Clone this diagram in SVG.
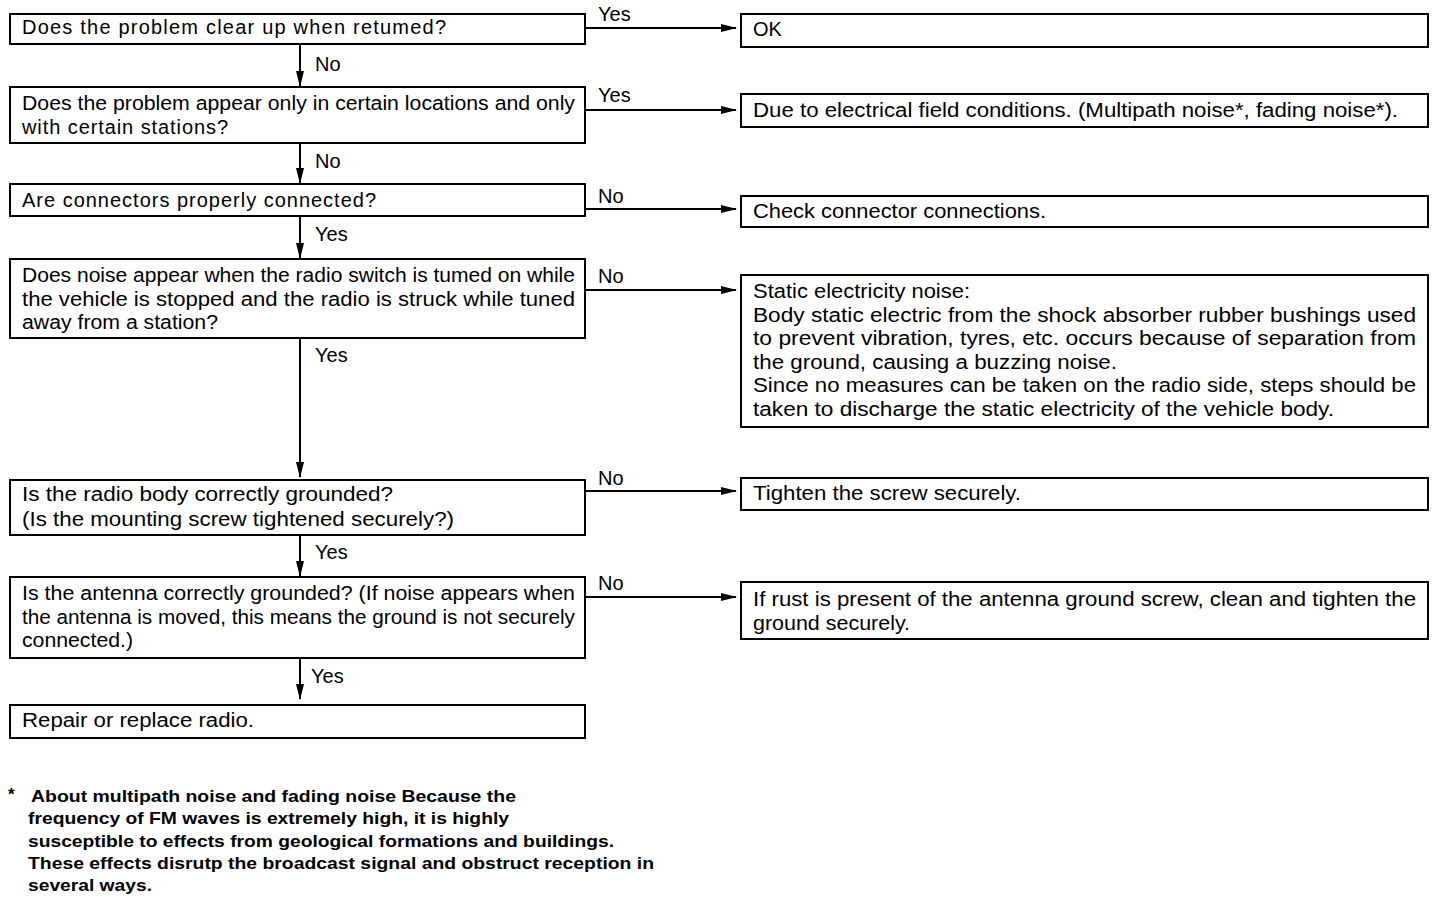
<svg xmlns="http://www.w3.org/2000/svg" width="1440" height="902" viewBox="0 0 1440 902">
<style>
.box{fill:#fff;stroke:#000;stroke-width:2}
.t{font-family:"Liberation Sans",Arial,sans-serif;font-size:20px;fill:#000}
.f{font-family:"Liberation Sans",Arial,sans-serif;font-size:17px;font-weight:bold;fill:#000}
.c{stroke:#000;stroke-width:2;fill:none;marker-end:url(#ah)}
</style>
<defs>
<marker id="ah" markerWidth="16" markerHeight="8" refX="15" refY="4" orient="auto" markerUnits="userSpaceOnUse">
<path d="M0,0 L16,4 L0,8 Z" fill="#000"/>
</marker>
</defs>
<rect width="1440" height="902" fill="#fff"/>

<g id="connectors">
<line class="c" x1="585" y1="28" x2="736" y2="28"/>
<line class="c" x1="585" y1="110" x2="736" y2="110"/>
<line class="c" x1="585" y1="209" x2="736" y2="209"/>
<line class="c" x1="585" y1="290" x2="736" y2="290"/>
<line class="c" x1="585" y1="491" x2="736" y2="491"/>
<line class="c" x1="585" y1="597" x2="736" y2="597"/>
<line class="c" x1="300" y1="44" x2="300" y2="86"/>
<line class="c" x1="300" y1="143" x2="300" y2="183"/>
<line class="c" x1="300" y1="216" x2="300" y2="258"/>
<line class="c" x1="300" y1="338" x2="300" y2="477"/>
<line class="c" x1="300" y1="535" x2="300" y2="576"/>
<line class="c" x1="300" y1="658" x2="300" y2="699"/>
<text class="t" x="598" y="21">Yes</text>
<text class="t" x="315" y="71">No</text>
<text class="t" x="598" y="102">Yes</text>
<text class="t" x="315" y="168">No</text>
<text class="t" x="598" y="203">No</text>
<text class="t" x="315" y="241">Yes</text>
<text class="t" x="598" y="283">No</text>
<text class="t" x="315" y="362">Yes</text>
<text class="t" x="598" y="485">No</text>
<text class="t" x="315" y="559">Yes</text>
<text class="t" x="598" y="590">No</text>
<text class="t" x="311" y="683">Yes</text>
</g>

<g id="q1">
<rect class="box" x="10" y="14" width="575" height="30"/>
<text class="t" x="22" y="34" textLength="424" lengthAdjust="spacing">Does the problem clear up when retumed?</text>
</g>
<g id="q2">
<rect class="box" x="10" y="87" width="575" height="56"/>
<text class="t" x="22" y="110" textLength="553" lengthAdjust="spacingAndGlyphs">Does the problem appear only in certain locations and only</text>
<text class="t" x="22" y="134" textLength="206" lengthAdjust="spacing">with certain stations?</text>
</g>
<g id="q3">
<rect class="box" x="10" y="184" width="575" height="32"/>
<text class="t" x="22" y="207" textLength="354" lengthAdjust="spacing">Are connectors properly connected?</text>
</g>
<g id="q4">
<rect class="box" x="10" y="259" width="575" height="79"/>
<text class="t" x="22" y="282" textLength="553" lengthAdjust="spacingAndGlyphs">Does noise appear when the radio switch is tumed on while</text>
<text class="t" x="22" y="306" textLength="553" lengthAdjust="spacingAndGlyphs">the vehicle is stopped and the radio is struck while tuned</text>
<text class="t" x="22" y="329" textLength="196" lengthAdjust="spacingAndGlyphs">away from a station?</text>
</g>
<g id="q5">
<rect class="box" x="10" y="480" width="575" height="55"/>
<text class="t" x="22" y="501" textLength="371" lengthAdjust="spacingAndGlyphs">Is the radio body correctly grounded?</text>
<text class="t" x="22" y="526" textLength="432" lengthAdjust="spacingAndGlyphs">(Is the mounting screw tightened securely?)</text>
</g>
<g id="q6">
<rect class="box" x="10" y="577" width="575" height="81"/>
<text class="t" x="22" y="600" textLength="553" lengthAdjust="spacingAndGlyphs">Is the antenna correctly grounded? (If noise appears when</text>
<text class="t" x="22" y="624" textLength="553" lengthAdjust="spacingAndGlyphs">the antenna is moved, this means the ground is not securely</text>
<text class="t" x="22" y="647" textLength="111" lengthAdjust="spacingAndGlyphs">connected.)</text>
</g>
<g id="r7">
<rect class="box" x="10" y="705" width="575" height="33"/>
<text class="t" x="22" y="727" textLength="232" lengthAdjust="spacingAndGlyphs">Repair or replace radio.</text>
</g>

<g id="a1">
<rect class="box" x="741" y="14" width="687" height="33"/>
<text class="t" x="753" y="36">OK</text>
</g>
<g id="a2">
<rect class="box" x="741" y="94" width="687" height="33"/>
<text class="t" x="753" y="117" textLength="645" lengthAdjust="spacingAndGlyphs">Due to electrical field conditions. (Multipath noise*, fading noise*).</text>
</g>
<g id="a3">
<rect class="box" x="741" y="196" width="687" height="31"/>
<text class="t" x="753" y="218" textLength="293" lengthAdjust="spacingAndGlyphs">Check connector connections.</text>
</g>
<g id="a4">
<rect class="box" x="741" y="275" width="687" height="152"/>
<text class="t" x="753" y="298" textLength="217" lengthAdjust="spacingAndGlyphs">Static electricity noise:</text>
<text class="t" x="753" y="322" textLength="663" lengthAdjust="spacingAndGlyphs">Body static electric from the shock absorber rubber bushings used</text>
<text class="t" x="753" y="345" textLength="663" lengthAdjust="spacingAndGlyphs">to prevent vibration, tyres, etc. occurs because of separation from</text>
<text class="t" x="753" y="369" textLength="364" lengthAdjust="spacingAndGlyphs">the ground, causing a buzzing noise.</text>
<text class="t" x="753" y="392" textLength="663" lengthAdjust="spacingAndGlyphs">Since no measures can be taken on the radio side, steps should be</text>
<text class="t" x="753" y="416" textLength="581" lengthAdjust="spacingAndGlyphs">taken to discharge the static electricity of the vehicle body.</text>
</g>
<g id="a5">
<rect class="box" x="741" y="478" width="687" height="32"/>
<text class="t" x="753" y="500" textLength="268" lengthAdjust="spacingAndGlyphs">Tighten the screw securely.</text>
</g>
<g id="a6">
<rect class="box" x="741" y="582" width="687" height="57"/>
<text class="t" x="753" y="606" textLength="663" lengthAdjust="spacingAndGlyphs">If rust is present of the antenna ground screw, clean and tighten the</text>
<text class="t" x="753" y="630" textLength="157" lengthAdjust="spacingAndGlyphs">ground securely.</text>
</g>

<g id="footnote">
<text class="f" x="8" y="800">*</text>
<text class="f" x="31" y="802" textLength="485" lengthAdjust="spacingAndGlyphs">About  multipath noise and fading noise Because the</text>
<text class="f" x="28" y="824" textLength="481" lengthAdjust="spacingAndGlyphs">frequency of FM waves is extremely high, it is highly</text>
<text class="f" x="28" y="847" textLength="586" lengthAdjust="spacingAndGlyphs">susceptible to effects from geological formations and buildings.</text>
<text class="f" x="28" y="869" textLength="626" lengthAdjust="spacingAndGlyphs">These effects disrutp the broadcast signal and obstruct  reception in</text>
<text class="f" x="28" y="891" textLength="124" lengthAdjust="spacingAndGlyphs">several ways.</text>
</g>
</svg>
